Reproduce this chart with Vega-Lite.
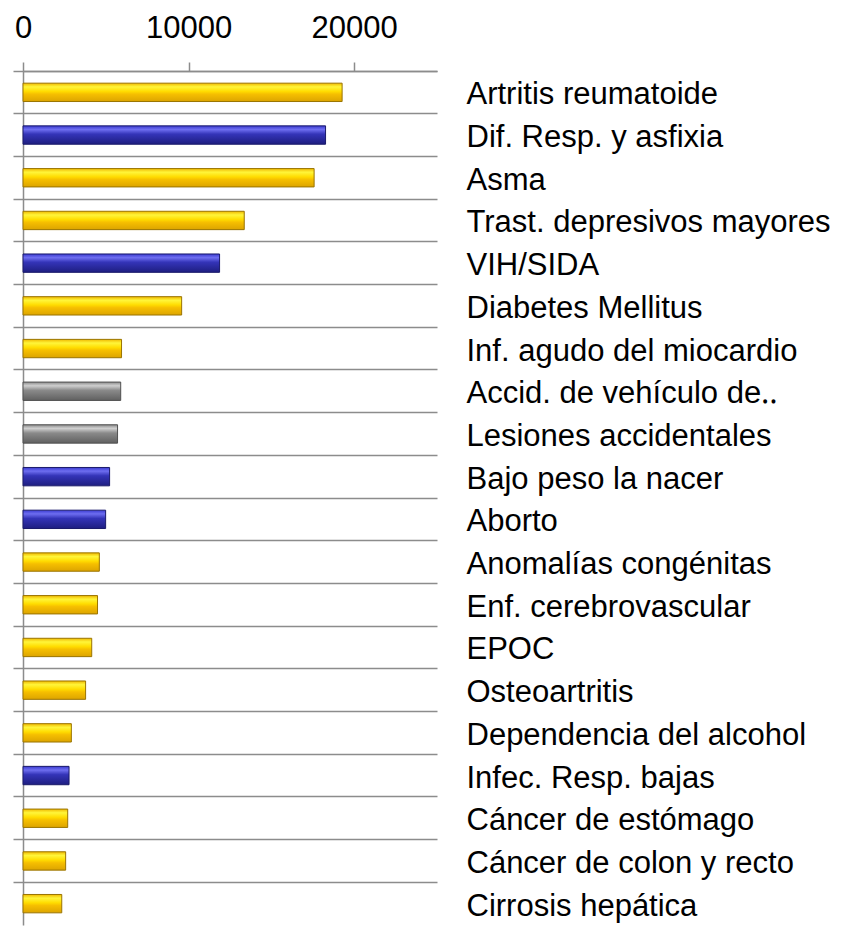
{
  "$schema": "https://vega.github.io/schema/vega-lite/v6.json",
  "autosize": "none",
  "width": 414,
  "height": 854,
  "padding": {"left": 23, "top": 71, "right": 408, "bottom": 1},
  "background": "white",
  "config": {"view": {"stroke": null}, "font": "Liberation Sans"},
  "data": {"values": [
    {"cause": "Artritis reumatoide", "value": 19270, "group": "y"},
    {"cause": "Dif. Resp. y asfixia", "value": 18270, "group": "b"},
    {"cause": "Asma", "value": 17580, "group": "y"},
    {"cause": "Trast. depresivos mayores", "value": 13360, "group": "y"},
    {"cause": "VIH/SIDA", "value": 11870, "group": "b"},
    {"cause": "Diabetes Mellitus", "value": 9580, "group": "y"},
    {"cause": "Inf. agudo del miocardio", "value": 5950, "group": "y"},
    {"cause": "Accid. de vehículo de‥", "value": 5900, "group": "g"},
    {"cause": "Lesiones accidentales", "value": 5710, "group": "g"},
    {"cause": "Bajo peso la nacer", "value": 5230, "group": "b"},
    {"cause": "Aborto", "value": 4990, "group": "b"},
    {"cause": "Anomalías congénitas", "value": 4610, "group": "y"},
    {"cause": "Enf. cerebrovascular", "value": 4500, "group": "y"},
    {"cause": "EPOC", "value": 4150, "group": "y"},
    {"cause": "Osteoartritis", "value": 3780, "group": "y"},
    {"cause": "Dependencia del alcohol", "value": 2920, "group": "y"},
    {"cause": "Infec. Resp. bajas", "value": 2780, "group": "b"},
    {"cause": "Cáncer de estómago", "value": 2700, "group": "y"},
    {"cause": "Cáncer de colon y recto", "value": 2575, "group": "y"},
    {"cause": "Cirrosis hepática", "value": 2340, "group": "y"}
  ]},
  "encoding": {
    "x": {
      "field": "value", "type": "quantitative",
      "scale": {"domain": [0, 25000], "nice": false},
      "axis": {"orient": "top", "values": [0, 10000, 20000], "format": "d", "title": null, "grid": false, "tickSize": 9, "tickColor": "#8c8c8c", "tickWidth": 1.5, "domainColor": "#8c8c8c", "domainWidth": 1.5, "labelFont": "Liberation Sans", "labelFontSize": 31, "labelColor": "#000000", "labelBaseline": "alphabetic", "labelPadding": 25, "labelFlush": false}
    }
  },
  "layer": [
    {
      "mark": {"type": "bar", "strokeWidth": 1, "height": {"band": 0.43}},
      "encoding": {
        "y": {
          "field": "cause", "type": "nominal", "sort": null,
          "scale": {"paddingInner": 0, "paddingOuter": 0},
          "axis": {"orient": "left", "labels": false, "title": null, "bandPosition": 0, "ticks": true, "tickSize": 10, "tickColor": "#8c8c8c", "tickWidth": 1.5, "domain": true, "domainColor": "#8c8c8c", "domainWidth": 1.5, "grid": true, "gridColor": "#8c8c8c", "gridWidth": 1.5, "gridOpacity": 1}
        },
        "fill": {
          "condition": [
            {"test": "datum.group === 'b'", "value": {"gradient": "linear", "x1": 0, "y1": 0, "x2": 0, "y2": 1, "stops": [{"offset": 0, "color": "#3a3ad0"}, {"offset": 0.2, "color": "#6e6ef0"}, {"offset": 0.45, "color": "#3434b8"}, {"offset": 1, "color": "#1e1e80"}]}},
            {"test": "datum.group === 'g'", "value": {"gradient": "linear", "x1": 0, "y1": 0, "x2": 0, "y2": 1, "stops": [{"offset": 0, "color": "#8c8c8c"}, {"offset": 0.2, "color": "#cfcfcf"}, {"offset": 0.45, "color": "#8a8a8a"}, {"offset": 1, "color": "#606060"}]}}
          ],
          "value": {"gradient": "linear", "x1": 0, "y1": 0, "x2": 0, "y2": 1, "stops": [{"offset": 0, "color": "#f0b800"}, {"offset": 0.2, "color": "#fff53a"}, {"offset": 0.45, "color": "#ffdc00"}, {"offset": 0.6, "color": "#f6bf00"}, {"offset": 1, "color": "#dca400"}]}
        },
        "stroke": {
          "condition": [
            {"test": "datum.group === 'b'", "value": "#1a1a6a"},
            {"test": "datum.group === 'g'", "value": "#505050"}
          ],
          "value": "#9a7400"
        }
      }
    },
    {
      "mark": {"type": "bar", "opacity": 0},
      "encoding": {
        "y": {
          "field": "cause", "type": "nominal", "sort": null,
          "axis": {"orient": "right", "title": null, "ticks": false, "domain": false, "grid": false, "labelAlign": "left", "labelPadding": 29, "labelFont": "Liberation Sans", "labelFontSize": 31, "labelColor": "#000000", "labelLimit": 500, "labelOffset": 3}
        }
      }
    }
  ],
  "resolve": {"axis": {"y": "independent"}}
}
